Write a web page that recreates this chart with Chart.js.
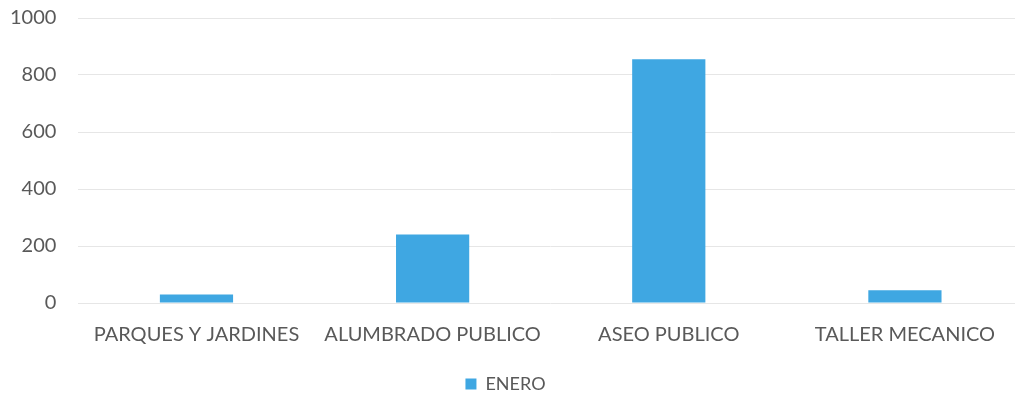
<!DOCTYPE html>
<html>
<head>
<meta charset="utf-8">
<script src="https://cdn.jsdelivr.net/npm/chart.js@4"></script>
<style>
  body { margin: 0; background: #fff; overflow: hidden; }
  #wrap { width: 1023px; height: 400px; }
</style>
</head>
<body>
<div id="wrap"><canvas id="bar_chart"></canvas></div>
<script>
var categories = ["PARQUES Y JARDINES", "ALUMBRADO PUBLICO", "ASEO PUBLICO", "TALLER MECANICO"];
var enero = [30, 240, 855, 45];
var yTicks = [0, 200, 400, 600, 800, 1000];

new Chart(document.getElementById("bar_chart").getContext("2d"), {
    type: 'bar',
    data: {
        labels: categories,
        datasets: [{
            label: "ENERO",
            data: enero,
            backgroundColor: '#3fa7e2',
            categoryPercentage: 1,
            barPercentage: 0.31
        }]
    },
    options: {
        responsive: true,
        maintainAspectRatio: false,
        animation: false,
        layout: { padding: { top: 18, right: 0, left: -12, bottom: -3 } },
        plugins: {
            legend: {
                position: 'bottom',
                align: 'center',
                labels: {
                    boxWidth: 11, boxHeight: 11, padding: 16,
                    color: '#595959',
                    font: { family: 'Lato', size: 18 }
                }
            },
            tooltip: { enabled: false }
        },
        scales: {
            x: {
                grid: { display: false },
                border: { display: false },
                ticks: { color: '#595959', font: { family: 'Lato', size: 20 }, padding: 12, maxRotation: 0 }
            },
            y: {
                min: 0, max: 1000,
                afterBuildTicks: function (axis) { axis.ticks = yTicks.map(function (v) { return { value: v }; }); },
                afterFit: function (axis) { axis.paddingTop = 0; },
                grid: { color: '#e6e6e6', drawTicks: false },
                border: { display: false },
                ticks: {
                    color: '#595959', font: { family: 'Lato', size: 20 }, padding: 22,
                    callback: function (v) { return String(v); }
                }
            }
        }
    }
});
</script>
</body>
</html>
